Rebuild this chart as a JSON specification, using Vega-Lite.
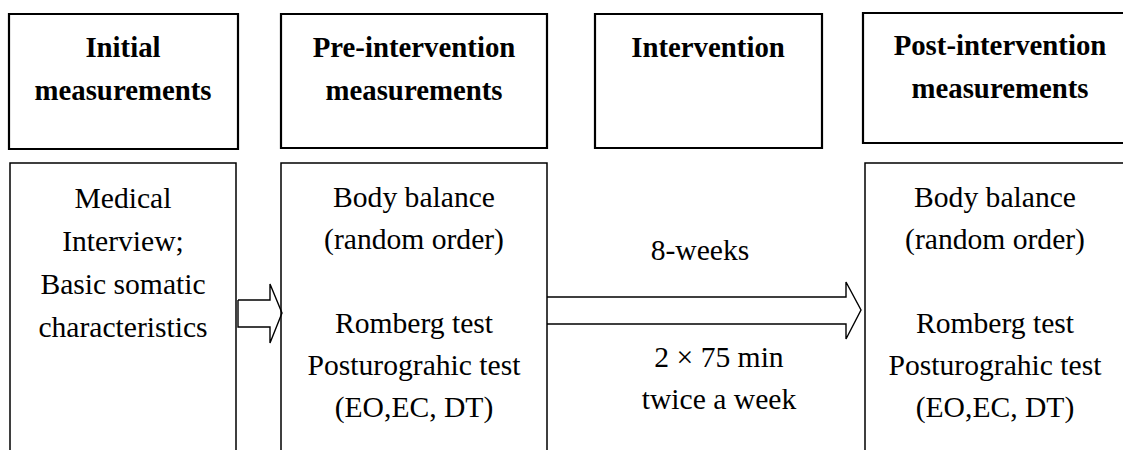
{
  "$schema": "https://vega.github.io/schema/vega-lite/v6.json",
  "width": 1123,
  "height": 450,
  "padding": 0,
  "autosize": {"type": "none"},
  "background": "white",
  "config": {"view": {"stroke": null}},
  "datasets": {
    "headers": [
      {"box": "Initial", "x": 9, "x2": 238, "y": 14, "y2": 149},
      {"box": "Pre", "x": 281, "x2": 547, "y": 14, "y2": 148},
      {"box": "Intervention", "x": 595, "x2": 822, "y": 14, "y2": 148},
      {"box": "Post", "x": 863, "x2": 1140, "y": 13, "y2": 143}
    ],
    "bodies": [
      {"box": "Initial", "x": 10, "x2": 236, "y": 163, "y2": 470},
      {"box": "Pre", "x": 281, "x2": 547, "y": 163, "y2": 470},
      {"box": "Post", "x": 865, "x2": 1140, "y": 163, "y2": 470}
    ],
    "arrows": [
      {"arrow": "a", "o": 1, "x": 238, "y": 300},
      {"arrow": "a", "o": 2, "x": 270, "y": 300},
      {"arrow": "a", "o": 3, "x": 270, "y": 284},
      {"arrow": "a", "o": 4, "x": 282, "y": 313},
      {"arrow": "a", "o": 5, "x": 270, "y": 343},
      {"arrow": "a", "o": 6, "x": 270, "y": 327},
      {"arrow": "a", "o": 7, "x": 238, "y": 327},
      {"arrow": "a", "o": 8, "x": 238, "y": 300},
      {"arrow": "b", "o": 1, "x": 547, "y": 297},
      {"arrow": "b", "o": 2, "x": 846, "y": 297},
      {"arrow": "b", "o": 3, "x": 846, "y": 282},
      {"arrow": "b", "o": 4, "x": 861, "y": 310},
      {"arrow": "b", "o": 5, "x": 846, "y": 339},
      {"arrow": "b", "o": 6, "x": 846, "y": 324},
      {"arrow": "b", "o": 7, "x": 547, "y": 324}
    ],
    "titles": [
      {"text": "Initial", "x": 123, "y": 57},
      {"text": "measurements", "x": 123, "y": 100},
      {"text": "Pre-intervention", "x": 414, "y": 57},
      {"text": "measurements", "x": 414, "y": 100},
      {"text": "Intervention", "x": 708, "y": 57},
      {"text": "Post-intervention", "x": 1000, "y": 55},
      {"text": "measurements", "x": 1000, "y": 98}
    ],
    "labels": [
      {"text": "Medical", "x": 123, "y": 208},
      {"text": "Interview;", "x": 123, "y": 251},
      {"text": "Basic somatic", "x": 123, "y": 294},
      {"text": "characteristics", "x": 123, "y": 337},
      {"text": "Body balance", "x": 414, "y": 207},
      {"text": "(random order)", "x": 414, "y": 249},
      {"text": "Romberg test", "x": 414, "y": 333},
      {"text": "Posturograhic test", "x": 414, "y": 375},
      {"text": "(EO,EC, DT)", "x": 414, "y": 417},
      {"text": "8-weeks", "x": 700, "y": 260},
      {"text": "2 × 75 min", "x": 719, "y": 367},
      {"text": "twice a week", "x": 719, "y": 409},
      {"text": "Body balance", "x": 995, "y": 207},
      {"text": "(random order)", "x": 995, "y": 249},
      {"text": "Romberg test", "x": 995, "y": 333},
      {"text": "Posturograhic test", "x": 995, "y": 375},
      {"text": "(EO,EC, DT)", "x": 995, "y": 417}
    ]
  },
  "layer": [
    {
      "data": {"name": "headers"},
      "mark": {"type": "rect", "fill": "white", "stroke": "black", "strokeWidth": 2.2, "clip": true},
      "encoding": {
        "x": {"field": "x", "type": "quantitative", "scale": {"domain": [0, 1123], "nice": false, "zero": false}, "axis": null},
        "x2": {"field": "x2"},
        "y": {"field": "y", "type": "quantitative", "scale": {"domain": [0, 450], "nice": false, "zero": false, "reverse": true}, "axis": null},
        "y2": {"field": "y2"}
      }
    },
    {
      "data": {"name": "bodies"},
      "mark": {"type": "rect", "fill": "white", "stroke": "black", "strokeWidth": 1.5, "clip": true},
      "encoding": {
        "x": {"field": "x", "type": "quantitative"},
        "x2": {"field": "x2"},
        "y": {"field": "y", "type": "quantitative"},
        "y2": {"field": "y2"}
      }
    },
    {
      "data": {"name": "arrows"},
      "mark": {"type": "line", "stroke": "black", "strokeWidth": 1.4, "strokeJoin": "miter"},
      "encoding": {
        "x": {"field": "x", "type": "quantitative"},
        "y": {"field": "y", "type": "quantitative"},
        "detail": {"field": "arrow"},
        "order": {"field": "o", "type": "quantitative"}
      }
    },
    {
      "data": {"name": "titles"},
      "mark": {"type": "text", "font": "Liberation Serif", "fontSize": 28.8, "fontWeight": "bold", "align": "center", "baseline": "alphabetic", "color": "black"},
      "encoding": {
        "x": {"field": "x", "type": "quantitative"},
        "y": {"field": "y", "type": "quantitative"},
        "text": {"field": "text"}
      }
    },
    {
      "data": {"name": "labels"},
      "mark": {"type": "text", "font": "Liberation Serif", "fontSize": 29.6, "align": "center", "baseline": "alphabetic", "color": "black"},
      "encoding": {
        "x": {"field": "x", "type": "quantitative"},
        "y": {"field": "y", "type": "quantitative"},
        "text": {"field": "text"}
      }
    }
  ]
}
